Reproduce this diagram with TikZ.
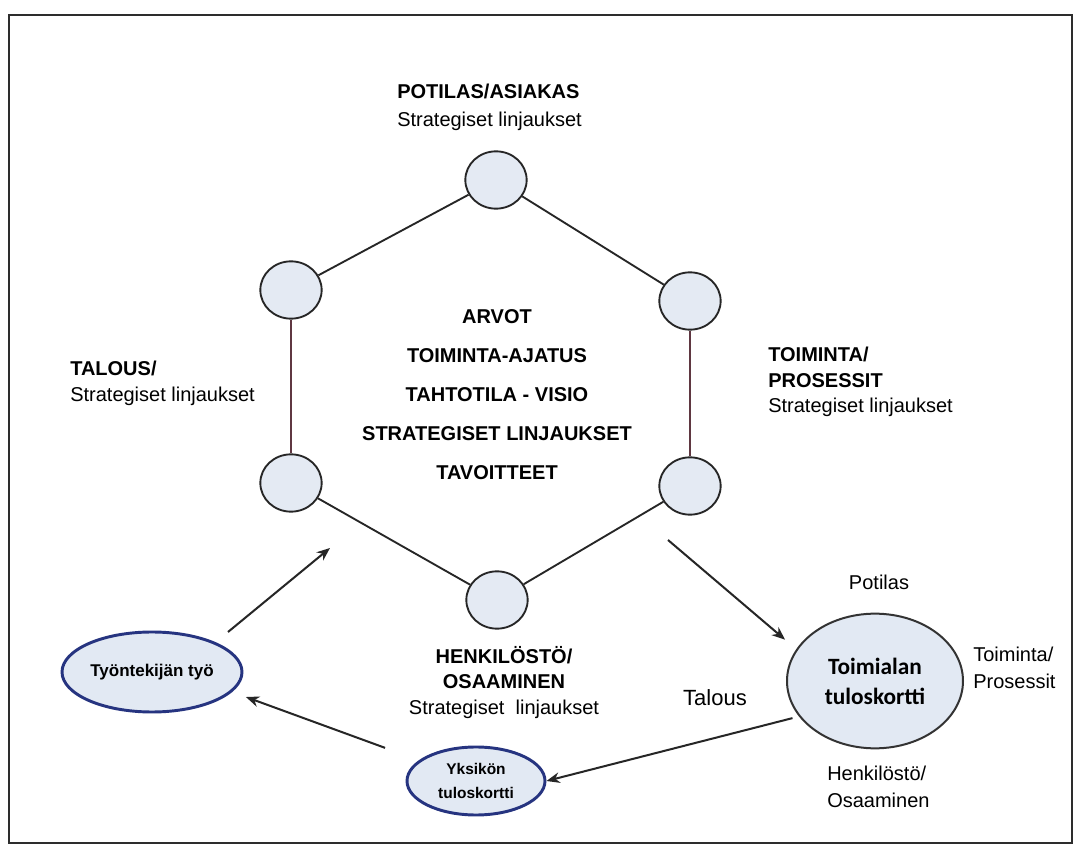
\documentclass[tikz,border=0pt]{standalone}
\usepackage{fontspec}
\setmainfont{Liberation Sans}
\newfontfamily\cardfont{Carlito}
\usetikzlibrary{arrows.meta,shapes.geometric}

\definecolor{hubfill}{RGB}{228,234,243}
\definecolor{cardfill}{RGB}{226,233,243}
\definecolor{rimblue}{RGB}{38,52,128}
\definecolor{framegray}{RGB}{45,45,45}
\definecolor{sideline}{RGB}{95,55,65}
\newcommand\sizept[2]{\fontsize{#1}{#2}\selectfont}

\begin{document}
\begin{tikzpicture}[x=0.75pt,y=-0.75pt,
  hub/.style={ellipse, draw=black!85, line width=1.4pt, fill=hubfill,
    minimum width=46pt, minimum height=43pt, inner sep=0pt},
  rim/.style={line width=1.4pt, draw=black!85},
  siderim/.style={line width=1.4pt, draw=sideline},
  flow/.style={line width=1.5pt, draw=black!85, -{Stealth[length=10pt,width=8pt]}},
  lbl/.style={inner sep=0pt, font=\sizept{15}{19}},
  card/.style={ellipse, fill=cardfill, inner sep=0pt, align=center},
]
\useasboundingbox (0,0) rectangle (1076,848);
\fill[white] (0,0) rectangle (1076,848);
\draw[framegray, line width=2.2pt] (9,15) rectangle (1072,843);

% hexagon of perspectives
\node[hub] (top) at (496,180) {};
\node[hub] (tl)  at (291,290) {};
\node[hub] (tr)  at (690,301) {};
\node[hub] (bl)  at (291,483) {};
\node[hub] (br)  at (690,486) {};
\node[hub] (bot) at (497,600) {};

\draw[rim] (tl) -- (top);
\draw[rim] (top) -- (tr);
\draw[siderim] (tl) -- (bl);
\draw[siderim] (tr) -- (br);
\draw[rim] (bl) -- (bot);
\draw[rim] (bot) -- (br);

% core statements
\node[inner sep=0pt, align=center, font=\bfseries\sizept{15}{29.25}] (core) at (497,395)
  {ARVOT\\TOIMINTA-AJATUS\\TAHTOTILA - VISIO\\STRATEGISET LINJAUKSET\\TAVOITTEET};

% perspective labels
\node[lbl, anchor=north west, align=left, font=\sizept{15}{21}] (potilasLbl) at (397,84)
  {\textbf{POTILAS/ASIAKAS}\\Strategiset linjaukset};
\node[lbl, anchor=north west, align=left, font=\sizept{15}{19.5}] (talousLbl) at (70,361)
  {\textbf{TALOUS/}\\Strategiset linjaukset};
\node[lbl, anchor=north west, align=left] (toimintaLbl) at (768,347)
  {\textbf{TOIMINTA/}\\\textbf{PROSESSIT}\\Strategiset linjaukset};
\node[lbl, anchor=north, align=center] (henkLbl) at (504,646)
  {\textbf{HENKILÖSTÖ/}\\\textbf{OSAAMINEN}\\Strategiset\ \ linjaukset};

% scorecards
\node[card, draw=rimblue, line width=2.2pt, minimum width=135pt, minimum height=60pt,
  font=\bfseries\sizept{12.75}{15}] (tyo) at (152,672) {Työntekijän työ};
\node[card, draw=rimblue, line width=2.2pt, minimum width=103.5pt, minimum height=51pt,
  font=\bfseries\sizept{11.6}{18}] (yksikko) at (476,781) {Yksikön\\tuloskortti};
\node[card, draw=black!80, line width=1.5pt, minimum width=132pt, minimum height=101pt,
  font=\cardfont\bfseries\sizept{17.5}{22.5}] (toimiala) at (875,681) {Toimialan\\tuloskortti};

% labels round the unit scorecard
\node[lbl] (potilasSmall) at (879,582) {Potilas};
\node[lbl, anchor=west, align=left, font=\sizept{15}{20.25}] (toimSmall) at (973,668) {Toiminta/\\Prosessit};
\node[lbl, anchor=west, align=left, font=\sizept{15}{20.25}] (henkSmall) at (827,787) {Henkilöstö/\\Osaaminen};
\node[lbl, font=\sizept{16.5}{19}] (talousSmall) at (715,698) {Talous};

% cycle arrows
\coordinate (riseFrom) at (228,632);
\coordinate (riseTo) at (330,548);
\coordinate (dropFrom) at (668,540);
\draw[flow] (riseFrom) -- (riseTo);
\draw[flow, shorten >=11pt] (dropFrom) -- (toimiala.158);
\draw[flow, shorten <=5pt] (toimiala.205) -- (yksikko.east);
\draw[flow, shorten <=27pt, shorten >=11pt] (yksikko.160) -- (tyo.-14);
\end{tikzpicture}
\end{document}
